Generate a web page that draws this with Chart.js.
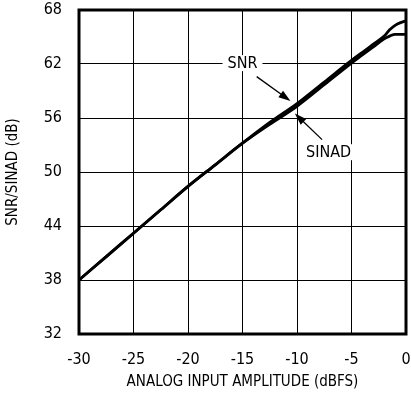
<!DOCTYPE html>
<html>
<head>
<meta charset="utf-8">
<script src="https://cdn.jsdelivr.net/npm/chart.js@4/dist/chart.umd.min.js"></script>
<style>
  html, body { margin: 0; padding: 0; background: #fff; }
  #wrap { width: 411px; height: 395px; }
</style>
</head>
<body>
<div id="wrap"><canvas id="chart" width="411" height="395"></canvas></div>
<script>
// input amplitude (dBFS)
const amplitude = [-30, -27.5, -25, -22.5, -20, -17.5, -15, -12.5, -10, -7.5, -5, -4, -3, -2, -1.5, -1, -0.5, 0];
const snr   = [38.0, 40.6, 43.2, 45.8, 48.4, 50.8, 53.2, 55.5, 57.6, 60.0, 62.4, 63.3, 64.2, 65.1, 65.8, 66.3, 66.6, 66.8];
const sinad = [38.0, 40.6, 43.2, 45.8, 48.4, 50.8, 53.2, 55.3, 57.3, 59.7, 62.1, 63.0, 63.9, 64.8, 65.1, 65.3, 65.3, 65.3];

const xTicks = [-30, -25, -20, -15, -10, -5, 0];
const yTicks = [32, 38, 44, 50, 56, 62, 68];

const FONT = '"Liberation Sans Narrow", "DejaVu Sans Condensed", "Liberation Sans", sans-serif';

const toPoints = (ys) => amplitude.map((x, i) => ({ x: x, y: ys[i] }));

// labels + arrows, placed in data coordinates
const notes = [
  { text: 'SNR',   at: [-15, 62.1],  from: [-13.7, 60.6], to: [-10.6, 57.9] },
  { text: 'SINAD', at: [-7.1, 52.2], from: [-7.7, 53.6],  to: [-10.2, 56.5] }
];

const frameAndNotes = {
  id: 'frameAndNotes',
  afterDatasetsDraw(chart) {
    const { ctx, chartArea: a, scales: { x, y } } = chart;
    ctx.save();
    // annotations
    ctx.font = '16px ' + FONT;
    ctx.textAlign = 'center';
    ctx.textBaseline = 'middle';
    notes.forEach(n => {
      const cx = x.getPixelForValue(n.at[0]), cy = y.getPixelForValue(n.at[1]);
      const w = ctx.measureText(n.text).width;
      ctx.fillStyle = '#fff';
      ctx.fillRect(cx - w / 2 - 5, cy - 8, w + 10, 16);
      ctx.fillStyle = '#000';
      ctx.fillText(n.text, cx, cy + 1);

      const x1 = x.getPixelForValue(n.from[0]), y1 = y.getPixelForValue(n.from[1]);
      const x2 = x.getPixelForValue(n.to[0]),   y2 = y.getPixelForValue(n.to[1]);
      const ang = Math.atan2(y2 - y1, x2 - x1);
      ctx.strokeStyle = '#000';
      ctx.lineWidth = 1.3;
      ctx.beginPath();
      ctx.moveTo(x1, y1);
      ctx.lineTo(x2 - 8 * Math.cos(ang), y2 - 8 * Math.sin(ang));
      ctx.stroke();
      ctx.beginPath();
      ctx.moveTo(x2, y2);
      ctx.lineTo(x2 - 12 * Math.cos(ang) + 4 * Math.sin(ang), y2 - 12 * Math.sin(ang) - 4 * Math.cos(ang));
      ctx.lineTo(x2 - 12 * Math.cos(ang) - 4 * Math.sin(ang), y2 - 12 * Math.sin(ang) + 4 * Math.cos(ang));
      ctx.closePath();
      ctx.fill();
    });
    // heavy frame
    ctx.strokeStyle = '#000';
    ctx.lineWidth = 3;
    ctx.strokeRect(a.left, a.top, a.right - a.left, a.bottom - a.top);
    ctx.restore();
  }
};

new Chart(document.getElementById('chart'), {
  type: 'scatter',
  data: {
    datasets: [
      { label: 'SNR',   data: toPoints(snr),   showLine: true, borderColor: '#000', borderWidth: 2.8, pointRadius: 0, cubicInterpolationMode: 'monotone' },
      { label: 'SINAD', data: toPoints(sinad), showLine: true, borderColor: '#000', borderWidth: 2.8, pointRadius: 0, cubicInterpolationMode: 'monotone' }
    ]
  },
  options: {
    responsive: false,
    animation: false,
    layout: { padding: { top: 10, right: 5, left: 0, bottom: 0 } },
    plugins: { legend: { display: false }, tooltip: { enabled: false } },
    scales: {
      x: {
        type: 'linear', min: -30, max: 0,
        afterBuildTicks: s => { s.ticks = xTicks.map(v => ({ value: v })); },
        afterFit: s => { s.height = 61; s.paddingLeft = 0; s.paddingRight = 0; },
        grid: { color: '#000', lineWidth: 1, drawTicks: false },
        border: { display: false },
        ticks: { color: '#000', padding: 16, maxRotation: 0, font: { family: FONT, size: 16 } },
        title: { display: true, text: 'ANALOG INPUT AMPLITUDE (dBFS)', color: '#000', padding: { top: 9 }, font: { family: FONT, size: 15 } }
      },
      y: {
        type: 'linear', min: 32, max: 68,
        afterBuildTicks: s => { s.ticks = yTicks.map(v => ({ value: v })); },
        afterFit: s => { s.width = 79; s.paddingTop = 0; s.paddingBottom = 0; },
        grid: { color: '#000', lineWidth: 1, drawTicks: false },
        border: { display: false },
        ticks: { color: '#000', padding: 17, font: { family: FONT, size: 16 } },
        title: { display: true, text: 'SNR/SINAD (dB)', color: '#000', padding: { bottom: 6 }, font: { family: FONT, size: 15 } }
      }
    }
  },
  plugins: [frameAndNotes]
});
</script>
</body>
</html>
